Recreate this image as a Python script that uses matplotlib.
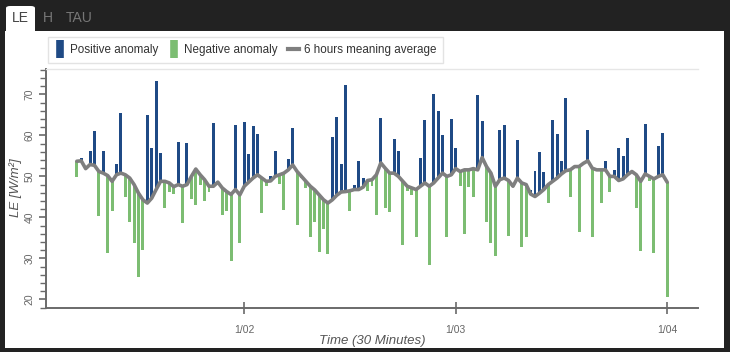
import matplotlib
matplotlib.use('Agg')
import matplotlib.pyplot as plt
import matplotlib.dates as mdates
from matplotlib.patches import Rectangle, FancyBboxPatch
from matplotlib.lines import Line2D
from matplotlib.ticker import MultipleLocator, FuncFormatter
import numpy as np
import pandas as pd

plt.rcParams['font.family'] = ['Liberation Sans', 'DejaVu Sans']

# ---- data (30-minute steps, 1/01 05:00 -> 1/04 00:00) ----
start_time = '2024-01-01 05:00'
values = [49.8, 54.6, 51.9, 56.1, 61.0, 40.4, 56.3, 31.3, 41.5, 53.0,
          65.5, 44.9, 39.0, 33.7, 25.4, 32.1, 64.9, 56.9, 73.3, 55.7,
          42.3, 46.3, 45.8, 58.5, 38.6, 58.1, 44.6, 43.1, 48.0, 43.9,
          46.2, 63.0, 48.3, 40.5, 41.5, 29.3, 62.6, 33.7, 63.3, 55.5,
          62.4, 60.4, 41.1, 47.6, 50.2, 56.3, 48.1, 41.9, 54.3, 61.8,
          38.1, 49.5, 47.2, 35.2, 39.0, 31.5, 37.2, 31.1, 59.5, 64.4,
          53.0, 72.2, 41.5, 48.0, 53.7, 49.6, 46.5, 47.6, 40.7, 64.2,
          42.4, 41.3, 59.1, 56.3, 33.3, 46.4, 45.4, 35.1, 54.5, 63.7,
          28.3, 70.2, 66.0, 60.2, 35.1, 64.1, 56.9, 47.6, 35.9, 47.3,
          44.9, 69.8, 63.4, 38.9, 33.7, 30.5, 61.2, 62.6, 35.4, 47.3,
          59.0, 32.7, 35.1, 46.8, 51.2, 55.9, 51.1, 43.5, 63.8, 60.3,
          53.8, 69.1, 44.9, 52.2, 36.4, 53.3, 61.4, 35.2, 51.2, 43.5,
          53.8, 46.2, 51.6, 56.9, 54.9, 59.4, 51.0, 42.4, 31.9, 62.8,
          49.0, 31.3, 57.3, 60.6, 20.7]
average = [53.7, 53.8, 51.9, 52.9, 52.7, 51.2, 50.8, 50.2, 48.8, 50.4,
           50.8, 50.4, 49.6, 48.0, 45.9, 44.3, 43.5, 44.7, 46.8, 48.8,
           48.8, 48.4, 47.5, 48.0, 47.6, 48.0, 50.0, 51.8, 50.4, 49.2,
           47.6, 47.6, 48.6, 47.2, 46.3, 45.6, 46.8, 45.5, 47.6, 48.6,
           49.6, 50.4, 49.6, 48.8, 48.9, 50.0, 50.4, 50.8, 51.6, 52.8,
           51.2, 50.0, 48.8, 47.6, 46.7, 45.5, 44.3, 43.5, 44.3, 45.4,
           46.2, 46.3, 46.5, 46.8, 46.8, 47.4, 49.0, 49.2, 50.4, 53.3,
           52.0, 50.8, 50.8, 50.0, 48.8, 47.6, 47.2, 46.8, 47.6, 48.4,
           47.6, 48.4, 49.6, 50.8, 50.0, 50.4, 51.9, 51.2, 51.6, 51.6,
           51.9, 51.6, 54.6, 52.4, 50.8, 47.6, 49.2, 49.6, 49.0, 47.6,
           49.6, 48.4, 48.0, 45.7, 45.1, 45.9, 46.8, 48.0, 48.8, 49.6,
           50.6, 51.4, 51.6, 52.4, 52.4, 53.2, 53.8, 52.0, 51.6, 51.6,
           51.6, 50.0, 50.0, 49.0, 49.4, 50.4, 51.2, 50.4, 48.8, 50.6,
           50.0, 49.4, 50.0, 50.4, 48.6]
series_labels = ['Positive anomaly', 'Negative anomaly', '6 hours meaning average']
tab_labels = ['LE', 'H', 'TAU']
y_label = 'LE [W/m²]'
x_label = 'Time (30 Minutes)'

times = pd.date_range(start_time, periods=len(values), freq='30min')
vals = np.array(values)
avg = np.array(average)
diff = vals - avg
pos = diff >= 0

c_pos = '#1f4a85'
c_neg = '#7cbd72'
c_line = '#7f7f7f'

W, H = 730, 352
fig = plt.figure(figsize=(W / 100, H / 100), dpi=100, facecolor='#222222')

def fx(px):
    return px / W

def fy(py):
    return 1 - py / H

# white panel and tabs
fig.patches.append(Rectangle((fx(5), fy(348)), fx(724) - fx(5), fy(31) - fy(348),
                             transform=fig.transFigure, facecolor='white',
                             edgecolor='none', zorder=-5))
fig.patches.append(FancyBboxPatch((fx(6), fy(40)), fx(35) - fx(6), fy(6) - fy(40),
                                  boxstyle='round,pad=0,rounding_size=0.006',
                                  transform=fig.transFigure, facecolor='white',
                                  edgecolor='none', zorder=-5))
fig.text(fx(20), fy(18.5), tab_labels[0], ha='center', va='center', fontsize=10,
         color='#444444')
fig.text(fx(48), fy(18.5), tab_labels[1], ha='center', va='center', fontsize=10,
         color='#777777')
fig.text(fx(79), fy(18.5), tab_labels[2], ha='center', va='center', fontsize=10,
         color='#777777')

ax_left, ax_right, ax_top, ax_bot = 46, 698, 69, 308
ax = fig.add_axes([fx(ax_left), fy(ax_bot), fx(ax_right) - fx(ax_left),
                   fy(ax_top) - fy(ax_bot)])
ax.set_facecolor('white')

bar_w = pd.Timedelta(minutes=30) * 0.68
ax.bar(times[pos], diff[pos], bottom=avg[pos], width=bar_w, color=c_pos,
       linewidth=0, zorder=2)
ax.bar(times[~pos], diff[~pos], bottom=avg[~pos], width=bar_w, color=c_neg,
       linewidth=0, zorder=2)
ax.plot(times, avg, color=c_line, linewidth=2.6, solid_joinstyle='round',
        solid_capstyle='round', zorder=3)

pad = pd.Timedelta(hours=3.5)
ax.set_xlim(times[0] - pad, times[-1] + pad)
ax.set_ylim(17.9, 76.2)

ax.yaxis.set_major_locator(MultipleLocator(10))
ax.yaxis.set_minor_locator(MultipleLocator(2))
ax.xaxis.set_major_locator(mdates.DayLocator())
ax.xaxis.set_major_formatter(FuncFormatter(
    lambda v, p: f"{mdates.num2date(v).month}/{mdates.num2date(v).day:02d}"))

for s in ['left', 'bottom']:
    ax.spines[s].set_color('#6a6a6a')
    ax.spines[s].set_linewidth(1.4)
ax.spines['top'].set_color('#e6e6e6')
ax.spines['top'].set_linewidth(1.0)
ax.spines['right'].set_visible(False)

ax.tick_params(axis='y', which='major', direction='out', length=5, width=1.2,
               color='#6a6a6a', labelsize=7.5, labelcolor='#666666', pad=3,
               labelrotation=90)
ax.tick_params(axis='y', which='minor', direction='out', length=4, width=1.0,
               color='#6a6a6a')
for lbl in ax.get_yticklabels():
    lbl.set_va('center')
ax.tick_params(axis='x', which='major', direction='inout', length=8, width=1.2,
               color='#6a6a6a', labelsize=7.5, labelcolor='#666666', pad=8)

ax.set_xlabel(x_label, fontsize=9.5, style='italic', color='#555555', labelpad=0)
ax.set_ylabel(y_label, fontsize=9.5, style='italic', color='#555555')
ax.yaxis.set_label_coords((16 - ax_left) / (ax_right - ax_left),
                          (ax_bot - 188) / (ax_bot - ax_top))
ax.yaxis.label.set_va('center')
ax.yaxis.label.set_ha('center')

handles = [
    Line2D([], [], marker='|', markersize=13, markeredgewidth=5.5,
           linestyle='None', color=c_pos),
    Line2D([], [], marker='|', markersize=13, markeredgewidth=5.5,
           linestyle='None', color=c_neg),
    Line2D([], [], color=c_line, linewidth=3),
]
leg = ax.legend(handles, series_labels, loc='upper left', ncol=3,
                bbox_to_anchor=(fx(48), fy(37)), bbox_transform=fig.transFigure,
                frameon=True, fancybox=False, fontsize=8.4, handlelength=0.9,
                handletextpad=0.4, columnspacing=0.9, borderpad=0.6,
                borderaxespad=0)
leg.get_frame().set_edgecolor('#dddddd')
leg.get_frame().set_linewidth(1.0)
for t in leg.get_texts():
    t.set_color('#333333')

fig.savefig('out.png', dpi=100, facecolor=fig.get_facecolor())
